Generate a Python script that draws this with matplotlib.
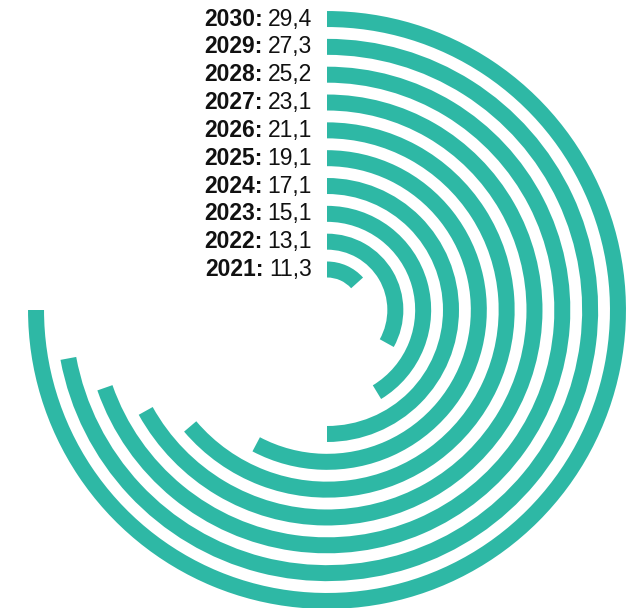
import numpy as np
import matplotlib.pyplot as plt

plt.rcParams["font.family"] = ["Liberation Sans", "DejaVu Sans"]

# data
years = ["2021", "2022", "2023", "2024", "2025", "2026", "2027", "2028", "2029", "2030"]
values = [11.3, 13.1, 15.1, 17.1, 19.1, 21.1, 23.1, 25.2, 27.3, 29.4]
# sweep of each ring in degrees, clockwise from 12 o'clock
sweep_deg = [48, 119, 148.7, 180, 207.8, 229.6, 240.9, 250.7, 259.4, 270]

teal = "#2eb8a5"

fig = plt.figure(figsize=(6.28, 6.08), dpi=100)
ax = fig.add_axes([27 / 628, -2 / 608, 600 / 628, 600 / 608], projection="polar")
ax.set_theta_zero_location("N")
ax.set_theta_direction(-1)
ax.set_rlim(0, 300)
ax.axis("off")

r0, step, thick = 40.5, 27.83, 16
radii = r0 + step * np.arange(len(years))

ax.barh(radii, np.deg2rad(sweep_deg), height=thick, left=0, color=teal, linewidth=0)

for yr, val, r in zip(years, values, radii):
    vtxt = ax.annotate(
        f"{val:.1f}".replace(".", ","),
        xy=(0, r),
        xytext=(-15, -6.5),
        textcoords="offset pixels",
        ha="right",
        va="baseline",
        fontsize=16.5,
        color="#111111",
    )
    ax.annotate(
        f"{yr}:",
        xy=(0, 0),
        xycoords=vtxt,
        xytext=(-5, 0),
        textcoords="offset pixels",
        ha="right",
        va="bottom",
        fontsize=16.5,
        fontweight="bold",
        color="#111111",
    )

fig.savefig("out.png", dpi=100)
